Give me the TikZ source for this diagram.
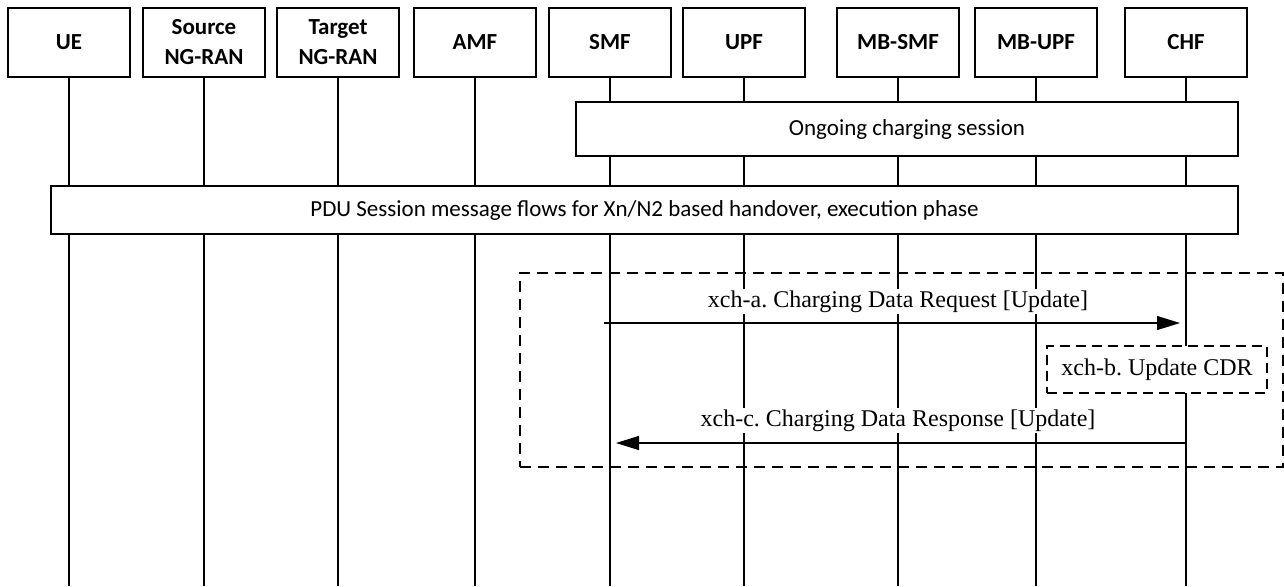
\documentclass[tikz,border=0pt]{standalone}
\usepackage{fontspec}
\setmainfont{Carlito}
\newfontfamily\msgfont{Liberation Serif}
\usepackage{tikz}
\usetikzlibrary{arrows.meta,calc,positioning}
\frenchspacing
\tikzset{
  actor/.style={draw=black, line width=0.6pt, rectangle, outer sep=0pt, minimum width=61pt, minimum height=34.5pt, align=center, fill=white, font=\fontsize{11.5}{15}\selectfont\bfseries},
  lifeline/.style={line width=0.6pt, draw=black},
  bar/.style={draw=black, line width=0.6pt, rectangle, align=center, fill=white, font=\fontsize{11.5}{14}\selectfont},
  group/.style={draw=black, line width=0.6pt, rectangle, dash pattern=on 5.5pt off 3.5pt},
  cdrbox/.style={draw=black, line width=0.6pt, rectangle, dash pattern=on 5pt off 3pt, fill=white, minimum width=110pt, minimum height=23.5pt, font=\msgfont\fontsize{12}{14}\selectfont},
  msg/.style={->, line width=0.6pt, draw=black, >={Triangle[length=11.5pt,width=7pt]}, shorten >=3pt},
  msglabel/.style={fill=white, inner sep=1pt, font=\msgfont\fontsize{12}{14}\selectfont}
}
\begin{document}
\begin{tikzpicture}[x=1pt, y=1pt]
  \useasboundingbox (0,0) rectangle (642,-293);
  \coordinate (bottom) at (0,-293);

  \node[actor] (ue) at (34.5,-21.25) {UE};
  \node[actor, right=6.5pt of ue] (srcran) {Source\\NG-RAN};
  \node[actor, right=6pt of srcran] (tgtran) {Target\\NG-RAN};
  \node[actor, right=7.5pt of tgtran] (amf) {AMF};
  \node[actor, right=6.5pt of amf] (smf) {SMF};
  \node[actor, right=6pt of smf] (upf) {UPF};
  \node[actor, right=16pt of upf] (mbsmf) {MB-SMF};
  \node[actor, right=8pt of mbsmf] (mbupf) {MB-UPF};
  \node[actor, right=14pt of mbupf] (chf) {CHF};

  \draw[lifeline] (ue.south) -- (ue |- bottom);
  \draw[lifeline] (srcran.south) -- (srcran |- bottom);
  \draw[lifeline] (tgtran.south) -- (tgtran |- bottom);
  \draw[lifeline] (amf.south) -- (amf |- bottom);
  \draw[lifeline] (smf.south) -- (smf |- bottom);
  \draw[lifeline] (upf.south) -- (upf |- bottom);
  \draw[lifeline] (mbsmf.south) -- (mbsmf |- bottom);
  \draw[lifeline] (mbupf.south) -- (mbupf |- bottom);
  \draw[lifeline] (chf.south) -- (chf |- bottom);

  \node[bar, minimum width=331pt, minimum height=27pt] (charging) at (453.5,-64.5) {Ongoing charging session};
  \node[bar, minimum width=593.5pt, minimum height=24pt] (pduflow) at (322.25,-105) {PDU Session message flows for Xn/N2 based handover, execution phase};

  \node[group, minimum width=381.5pt, minimum height=97pt] (xchgroup) at (450.75,-185) {};

  \coordinate (reqrow) at (0,-161.5);
  \coordinate (resrow) at (0,-221.5);
  \draw[msg, shorten <=-3pt] (smf |- reqrow) -- node[msglabel, above=4pt] (reqlabel) {xch-a. Charging Data Request [Update]} (chf |- reqrow);
  \node[cdrbox] (updatecdr) at (578.5,-184.75) {xch-b. Update CDR};
  \draw[msg] (chf |- resrow) -- node[msglabel, above=4.5pt] (reslabel) {xch-c. Charging Data Response [Update]} (smf |- resrow);
\end{tikzpicture}
\end{document}
